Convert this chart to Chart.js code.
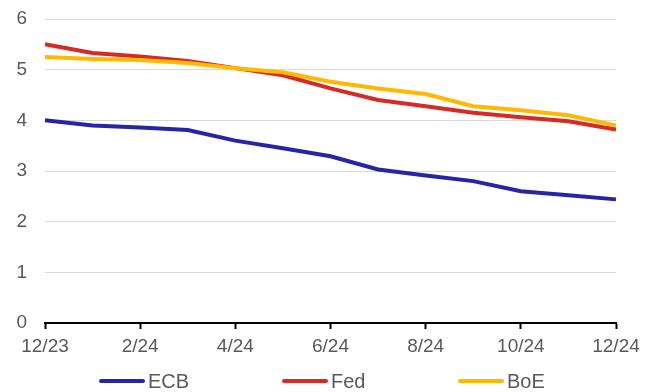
<!DOCTYPE html>
<html>
<head>
<meta charset="utf-8">
<script src="https://cdn.jsdelivr.net/npm/chart.js@4"></script>
<style>
  html,body{margin:0;padding:0;background:#fff;}
  #wrap{position:relative;width:656px;height:392px;font-family:Arial,"Liberation Sans",sans-serif;}
  #legend{position:absolute;left:0;top:370px;width:656px;height:22px;}
  .lg{position:absolute;top:0;display:flex;align-items:center;font-size:20px;color:#595959;line-height:22px;}
  .lg i{display:inline-block;width:46px;height:4px;border-radius:2px;margin-right:3px;}
</style>
</head>
<body>
<div id="wrap">
  <canvas id="c" width="656" height="392"></canvas>
  <div id="legend"></div>
</div>
<script>
/* policy rates, monthly 12/23 - 12/24 */
const months = ['12/23','1/24','2/24','3/24','4/24','5/24','6/24','7/24','8/24','9/24','10/24','11/24','12/24'];
const ecb = [4.00, 3.90, 3.86, 3.81, 3.60, 3.45, 3.29, 3.03, 2.91, 2.80, 2.60, 2.52, 2.44];
const fed = [5.50, 5.33, 5.26, 5.17, 5.03, 4.89, 4.63, 4.40, 4.28, 4.15, 4.06, 3.98, 3.82];
const boe = [5.25, 5.21, 5.19, 5.13, 5.03, 4.95, 4.76, 4.63, 4.52, 4.28, 4.20, 4.10, 3.90];
const yTicks = [0, 1, 2, 3, 4, 5, 6];

const BLUE = '#2525A6', RED = '#D62B25', GOLD = '#FFB900', TXT = '#595959';

const series = [
  { label: 'ECB', data: ecb, color: BLUE, order: 2, legendX: 99 },
  { label: 'Fed', data: fed, color: RED, order: 1, legendX: 282 },
  { label: 'BoE', data: boe, color: GOLD, order: 0, legendX: 458 }
];

const font = { family: 'Arial, "Liberation Sans", sans-serif', size: 19 };

new Chart(document.getElementById('c'), {
  type: 'line',
  data: {
    labels: months,
    datasets: series.map(s => ({
      label: s.label, data: s.data, order: s.order,
      borderColor: s.color, backgroundColor: s.color,
      borderWidth: 4, pointRadius: 0, tension: 0, fill: false
    }))
  },
  options: {
    responsive: false, animation: false,
    layout: { padding: { top: 19, right: 40, left: 0, bottom: 0 } },
    plugins: { legend: { display: false }, tooltip: { enabled: false } },
    scales: {
      x: {
        afterFit: s => { s.height = 69; },
        grid: { drawOnChartArea: false, tickLength: 6, tickWidth: 2,
                tickColor: c => c.index % 2 ? 'rgba(0,0,0,0)' : '#000' },
        border: { color: '#000', width: 2 },
        ticks: { autoSkip: false, maxRotation: 0, padding: 6, color: TXT, font,
                 callback: function (v, i) { return i % 2 ? '' : this.getLabelForValue(v); } }
      },
      y: {
        min: 0, max: 6,
        afterFit: s => { s.width = 45; s.paddingTop = 0; s.paddingBottom = 0; },
        afterBuildTicks: s => { s.ticks = yTicks.map(v => ({ value: v })); },
        grid: { color: '#d9d9d9', lineWidth: 1, drawTicks: false },
        border: { display: false },
        ticks: { padding: 18, color: TXT, font }
      }
    }
  }
});

const lg = document.getElementById('legend');
lg.innerHTML = series.map(s =>
  `<div class="lg" style="left:${s.legendX}px"><i style="background:${s.color}"></i>${s.label}</div>`
).join('');
</script>
</body>
</html>
